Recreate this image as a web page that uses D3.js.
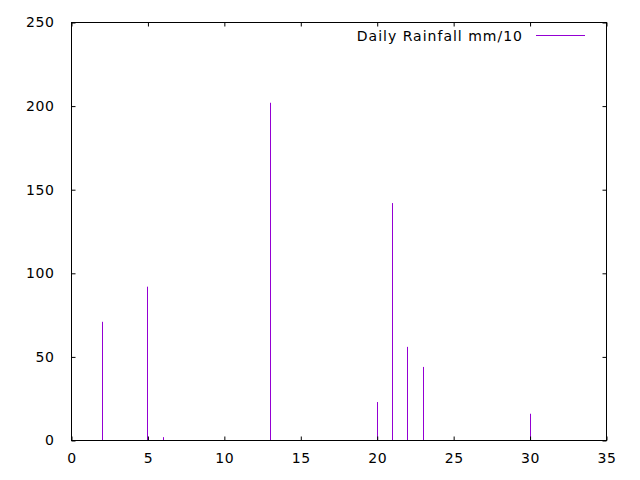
<!DOCTYPE html>
<html>
<head>
<meta charset="utf-8">
<script src="https://cdn.jsdelivr.net/npm/d3@7"></script>
<style>
	body { margin: 0; background: #fff; }
	svg { display: block; }
	.axis text { font-family: "DejaVu Sans", sans-serif; font-size: 14px; fill: #000; letter-spacing: 0.6px; }
	.legend text { font-family: "DejaVu Sans", sans-serif; font-size: 14px; fill: #000; letter-spacing: 1px; }
</style>
</head>
<body>
<svg id="chart"></svg>
<script>
// day of month and rainfall (mm/10)
var days = [2, 5, 6, 13, 20, 21, 22, 23, 30];
var rainfall = [71, 92, 2, 202, 23, 142, 56, 44, 16];
var xTicks = [0, 5, 10, 15, 20, 25, 30, 35];
var yTicks = [0, 50, 100, 150, 200, 250];
var seriesName = "Daily Rainfall mm/10";

var width = 640, height = 480;
var margin = {top: 22.5, right: 33.5, bottom: 39.5, left: 71.5};
var innerW = width - margin.left - margin.right,
	innerH = height - margin.top - margin.bottom;

var svg = d3.select("#chart")
	.attr("width", width)
	.attr("height", height);

var x = d3.scaleLinear().domain([0, 35]).range([0, innerW]);
var y = d3.scaleLinear().domain([0, 250]).range([innerH, 0]);

var g = svg.append("g")
	.attr("transform", "translate(" + margin.left + "," + margin.top + ")");

// impulses
var records = days.map(function(d, i) { return {day: d, value: rainfall[i]}; });
g.selectAll(".impulse")
	.data(records)
	.enter().append("line")
	.attr("class", "impulse")
	.attr("x1", function(d) { return Math.round(x(d.day)); })
	.attr("x2", function(d) { return Math.round(x(d.day)); })
	.attr("y1", y(0))
	.attr("y2", function(d) { return y(d.value); })
	.attr("stroke", "#9400d3")
	.attr("stroke-width", 1);

// axes, gnuplot style with ticks pointing inward and mirrored
var tick = 4;
g.append("g")
	.attr("class", "axis")
	.attr("transform", "translate(0," + innerH + ")")
	.call(d3.axisBottom(x).tickValues(xTicks).tickSizeInner(-tick).tickSizeOuter(0).tickPadding(13));
g.append("g")
	.attr("class", "axis")
	.call(d3.axisTop(x).tickValues(xTicks).tickSizeInner(-tick).tickSizeOuter(0).tickFormat(""));
g.append("g")
	.attr("class", "axis")
	.call(d3.axisLeft(y).tickValues(yTicks).tickSizeInner(-tick).tickSizeOuter(0).tickPadding(17));
g.append("g")
	.attr("class", "axis")
	.attr("transform", "translate(" + innerW + ",0)")
	.call(d3.axisRight(y).tickValues(yTicks).tickSizeInner(-tick).tickSizeOuter(0).tickFormat(""));

g.selectAll(".axis .domain").remove();
g.selectAll(".axis line").attr("stroke", "#000");

// border
g.append("rect")
	.attr("width", innerW)
	.attr("height", innerH)
	.attr("fill", "none")
	.attr("stroke", "#000")
	.attr("stroke-width", 1);

// legend
var legend = svg.append("g").attr("class", "legend");
legend.append("text")
	.attr("x", 523)
	.attr("y", 36)
	.attr("dy", "0.35em")
	.attr("text-anchor", "end")
	.text(seriesName);
legend.append("line")
	.attr("x1", 536)
	.attr("x2", 585)
	.attr("y1", 35.5)
	.attr("y2", 35.5)
	.attr("stroke", "#9400d3")
	.attr("stroke-width", 1);
</script>
</body>
</html>
